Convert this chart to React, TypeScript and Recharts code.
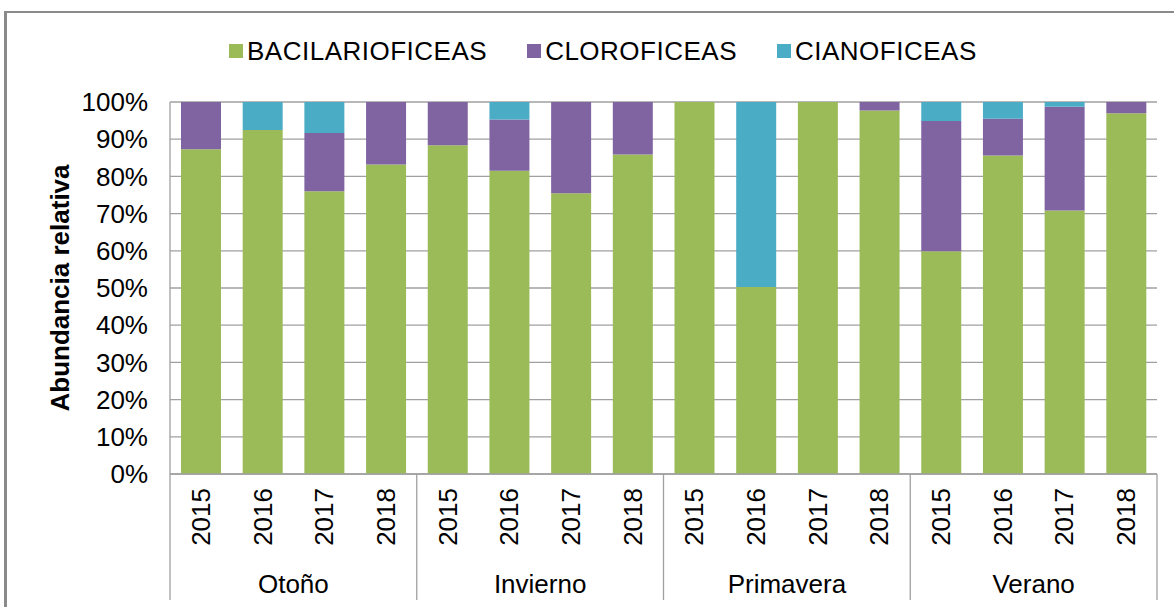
import React from "react";
import { BarChart, Bar, XAxis, YAxis, CartesianGrid } from "recharts";

const seasons = ["Otoño", "Invierno", "Primavera", "Verano"];
const years = ["2015", "2016", "2017", "2018"];

const bacilario = [87.3, 92.5, 76.0, 83.2, 88.4, 81.5, 75.5, 85.9, 100, 50.3, 100, 97.7, 59.9, 85.6, 70.8, 97.0];
const cloro = [12.7, 0, 15.7, 16.8, 11.6, 13.8, 24.5, 14.1, 0, 0, 0, 2.3, 35.0, 9.9, 27.9, 3.0];
const ciano = [0, 7.5, 8.3, 0, 0, 4.7, 0, 0, 0, 49.7, 0, 0, 5.1, 4.5, 1.3, 0];

const yTicks = [0, 10, 20, 30, 40, 50, 60, 70, 80, 90, 100];

const series = [
  { key: "BACILARIOFICEAS", color: "#9BBB59" },
  { key: "CLOROFICEAS", color: "#8064A2" },
  { key: "CIANOFICEAS", color: "#4BACC6" },
];

const data = seasons.flatMap((s, si) =>
  years.map((y, yi) => {
    const i = si * 4 + yi;
    return {
      year: y,
      season: s,
      BACILARIOFICEAS: bacilario[i],
      CLOROFICEAS: cloro[i],
      CIANOFICEAS: ciano[i],
    };
  })
);

const FONT = "'Liberation Sans', Arial, sans-serif";
const GRID = "#A0A0A0";
const W = 1174;
const H = 607;
const MARGIN = { top: 102, right: 17, bottom: 0, left: 0 };
const Y_WIDTH = 170;
// width of one category band, used only to place the group dividers
const BAND = (W - MARGIN.left - MARGIN.right - Y_WIDTH) / data.length;

const YearTick = (props: any) => {
  const { x, y, payload, index } = props;
  const i = index ?? payload.index;
  const first = i % years.length === 0;
  const last = i === data.length - 1;
  return (
    <g>
      <text
        x={x}
        y={y + 14}
        transform={`rotate(-90, ${x}, ${y + 14})`}
        textAnchor="end"
        dominantBaseline="central"
        fontSize={26}
        fontFamily={FONT}
        fill="#000"
      >
        {payload.value}
      </text>
      {first && (
        <>
          <line x1={x - BAND / 2} y1={y} x2={x - BAND / 2} y2={y + 126} stroke={GRID} strokeWidth={1.3} />
          <text x={x + BAND * 1.5} y={y + 119} textAnchor="middle" fontSize={26} fontFamily={FONT} fill="#000">
            {data[i].season}
          </text>
        </>
      )}
      {last && <line x1={x + BAND / 2} y1={y} x2={x + BAND / 2} y2={y + 126} stroke={GRID} strokeWidth={1.3} />}
    </g>
  );
};

export default function App() {
  return (
    <div style={{ position: "absolute", left: 0, top: 0, width: W, height: H, overflow: "hidden", background: "#fff" }}>
      <div
        style={{
          position: "absolute",
          left: 4,
          top: 11,
          width: 1200,
          height: 620,
          borderLeft: "3px solid #8a8a8a",
          borderTop: "2px solid #8a8a8a",
        }}
      />
      <div
        style={{
          position: "absolute",
          left: 229,
          top: 36,
          display: "flex",
          gap: 40,
          fontFamily: FONT,
          fontSize: 26,
          letterSpacing: 0.5,
          lineHeight: "30px",
          color: "#000",
        }}
      >
        {series.map((s) => (
          <div key={s.key} style={{ display: "flex", alignItems: "center", gap: 4 }}>
            <div style={{ width: 14, height: 14, background: s.color }} />
            <span>{s.key}</span>
          </div>
        ))}
      </div>
      <div style={{ position: "absolute", left: 0, top: 0 }}>
        <BarChart width={W} height={H} data={data} margin={MARGIN} barSize={40}>
          <CartesianGrid vertical={false} stroke={GRID} strokeWidth={1.3} />
          <XAxis
            dataKey="year"
            height={133}
            tick={<YearTick />}
            tickLine={false}
            tickSize={0}
            tickMargin={0}
            interval={0}
            axisLine={{ stroke: GRID, strokeWidth: 1.3 }}
          />
          <YAxis
            width={Y_WIDTH}
            domain={[0, 100]}
            ticks={yTicks}
            interval={0}
            tickFormatter={(v) => `${v}%`}
            tick={{ fontSize: 26, fontFamily: FONT, fill: "#000" }}
            tickLine={false}
            tickSize={0}
            tickMargin={22}
            axisLine={{ stroke: GRID, strokeWidth: 1.3 }}
            label={{
              value: "Abundancia relativa",
              angle: -90,
              position: "insideLeft",
              offset: 60,
              style: { fontSize: 26, fontWeight: "bold", fontFamily: FONT, fill: "#000", textAnchor: "middle" },
            }}
          />
          {series.map((s) => (
            <Bar key={s.key} dataKey={s.key} stackId="a" fill={s.color} isAnimationActive={false} />
          ))}
        </BarChart>
      </div>
    </div>
  );
}
